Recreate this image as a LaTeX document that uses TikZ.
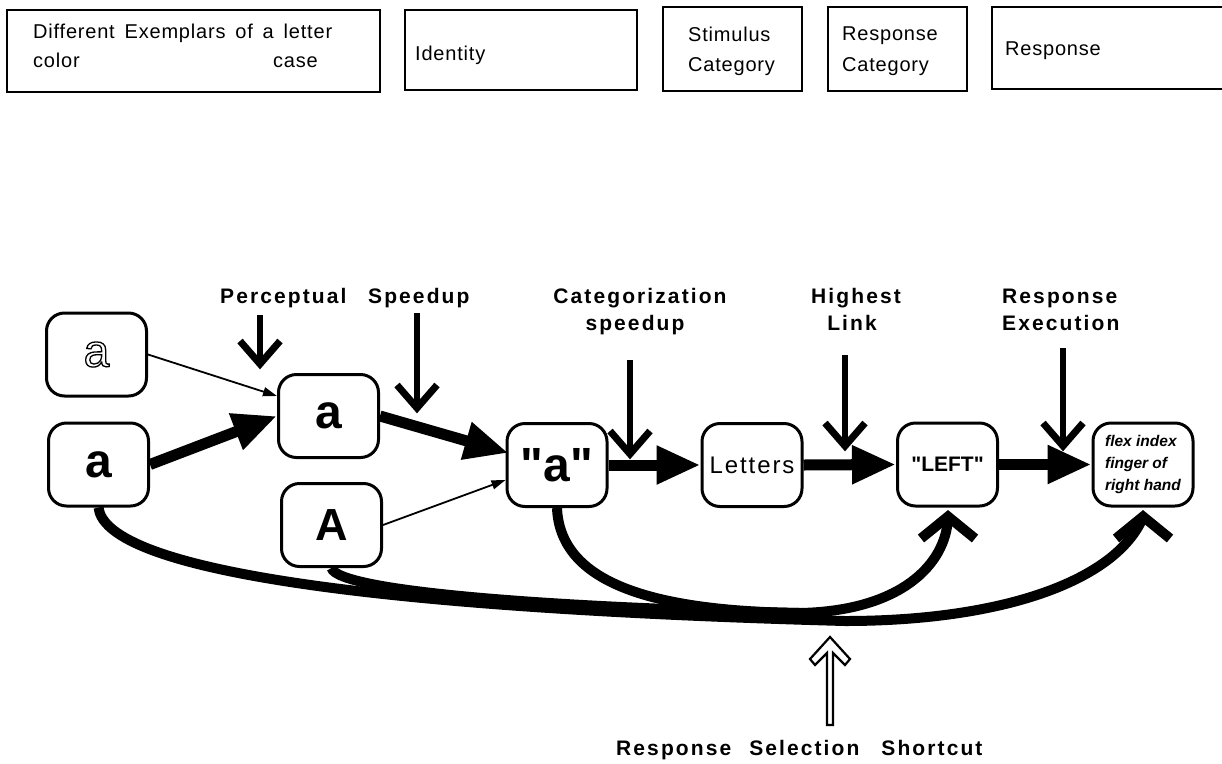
\documentclass[tikz,border=0pt]{standalone}
\usepackage{fontspec}
\setmainfont{Liberation Sans}
\newfontfamily\lblfont[LetterSpace=10]{Liberation Sans}
\newfontfamily\topfont[LetterSpace=4]{Liberation Sans}
\newfontfamily\ltrfont[LetterSpace=8]{Liberation Sans}
\newfontfamily\qfont[Ligatures=TeXOff]{Liberation Sans}
\usetikzlibrary{arrows.meta,calc}
\tikzset{
  topbox/.style={draw, line width=2.5pt, inner sep=0pt},
  toptext/.style={anchor=base west, inner sep=0pt, font=\topfont\fontsize{20}{29}\selectfont},
  stage/.style={draw, line width=3pt, rounded corners=18pt, fill=white, minimum width=100pt, minimum height=83pt, inner sep=0pt},
  bigletter/.style={font=\bfseries\fontsize{48}{48}\selectfont},
  lbl/.style={inner sep=0pt, font=\lblfont\bfseries\fontsize{21}{27}\selectfont},
  thinarr/.style={line width=1.8pt, -{Triangle[length=14pt,width=9pt]}},
  thickarr/.style={line width=11pt, -{Triangle[length=44pt,width=36pt]}},
  shaft/.style={line width=5.5pt},
  chev/.style={line width=7pt, line join=miter},
  upchev/.style={line width=10pt, line join=miter},
  route/.style={line width=10pt},
}
\begin{document}
\begin{tikzpicture}[x=1pt,y=-1pt]
\fill[white] (0,0) rectangle (1222,763);
\useasboundingbox (0,0) rectangle (1222,763);

% ---- top boxes ----
\node[topbox, minimum width=373pt, minimum height=82pt] (ex) at (193.5,51) {};
\node[toptext] (ex1) at (33,38) {\makebox[299pt][s]{Different Exemplars of a letter}};
\node[toptext] (ex2) at (33,67) {color};
\node[toptext] (ex3) at (273,67) {case};
\node[topbox, minimum width=232pt, minimum height=80pt] (idb) at (521,50) {};
\node[toptext] (idt) at (415,60) {Identity};
\node[topbox, minimum width=139pt, minimum height=84pt] (scb) at (732.5,49) {};
\node[toptext] (sc1) at (688,41) {Stimulus};
\node[toptext] (sc2) at (688,71) {Category};
\node[topbox, minimum width=139pt, minimum height=84pt] (rcb) at (897.5,49) {};
\node[toptext] (rc1) at (842,40) {Response};
\node[toptext] (rc2) at (842,71) {Category};
\node[topbox, minimum width=250pt, minimum height=82pt] (rb) at (1117,48) {};
\node[toptext] (rt) at (1005,55) {Response};

% ---- stage nodes ----
\node[stage] (oa) at (96.5,354.5) {\fontsize{46}{46}\selectfont\special{pdf:literal direct 1 Tr 1.3 w}a\special{pdf:literal direct 0 Tr}};
\node[stage, bigletter] (bolda) at (98.5,464.5) {a};
\node[stage, bigletter] (mida) at (328.5,416) {a};
\node[stage, font=\bfseries\fontsize{45}{45}\selectfont] (capA) at (331.5,525) {A};
\node[stage, font=\qfont\bfseries\fontsize{48}{48}\selectfont] (qa) at (557,465) {"a"};
\node[stage, font=\ltrfont\fontsize{24}{24}\selectfont] (let) at (752,465) {Letters};
\node[stage, font=\qfont\bfseries\fontsize{21}{21}\selectfont] (left) at (947.5,464.5) {"LEFT"};
\node[stage, font=\bfseries\itshape\fontsize{15.5}{22}\selectfont, align=left] (flex) at (1143,464.5) {flex index\\finger of\\right hand};

% ---- main links ----
\draw[thinarr] (oa.east) -- ($(mida.west)+(0,-20)$);
\draw[thickarr] (bolda.east) -- (mida.west);
\draw[thickarr] (mida.east) -- ($(qa.west)+(3,-12)$);
\draw[thinarr] (capA.east) -- ($(qa.west)+(0,15)$);
\draw[thickarr] (qa.east) -- (let.west);
\draw[thickarr] (let.east) -- (left.west);
\draw[thickarr] (left.east) -- (flex.west);

% ---- shortcut routes ----
\coordinate (lefttip) at ($(left.south)+(0.5,4)$);
\coordinate (flextip) at ($(flex.south)+(0,4)$);
\coordinate (b1) at (845,621);
\coordinate (b2) at (800,613);
\draw[route] (bolda.south) .. controls (105,565) and (330,607) .. (b1)
  .. controls (1000,621) and (1115,582) .. ($(flextip)+(0,6)$);
\draw[route] (capA.south) .. controls (338,592) and (560,608) .. (b2)
  .. controls (900,611) and (946,565) .. ($(lefttip)+(0,6)$);
\draw[route] (qa.south) .. controls (560,578) and (640,611) .. (b2);
\draw[upchev] ($(lefttip)+(-27,27)$) -- ($(lefttip)+(0,5)$) -- ($(lefttip)+(27,27)$);
\draw[upchev] ($(flextip)+(-27,27)$) -- ($(flextip)+(0,5)$) -- ($(flextip)+(27,27)$);

% ---- down arrows ----
\coordinate (p1s) at (260,315); \coordinate (p1e) at (260,368);
\coordinate (p2s) at (417,313); \coordinate (p2e) at (417,412);
\coordinate (p3s) at (630,360); \coordinate (p3e) at (630,458);
\coordinate (p4s) at (845,355); \coordinate (p4e) at (845,450);
\coordinate (p5s) at (1063,348); \coordinate (p5e) at (1063,450);
\foreach \s/\e in {p1s/p1e,p2s/p2e,p3s/p3e,p4s/p4e,p5s/p5e}{
  \draw[shaft] (\s) -- ($(\e)+(0,-8)$);
  \draw[chev] ($(\e)+(-20,-27)$) -- ($(\e)+(0,-4)$) -- ($(\e)+(20,-27)$);
}

% ---- hollow up arrow ----
\coordinate (sst) at (830,637);
\draw[line width=2.2pt, fill=white, line join=miter]
  ($(sst)+(-3,88)$) -- ($(sst)+(-3,16)$) -- ($(sst)+(-15,28)$) -- ($(sst)+(-20,22)$)
  -- (sst) -- ($(sst)+(20,22)$) -- ($(sst)+(15,28)$) -- ($(sst)+(3,16)$)
  -- ($(sst)+(3,88)$) -- cycle;

% ---- labels ----
\node[lbl, anchor=base west] (lp) at (220,303) {Perceptual};
\node[lbl, anchor=base west] (ls) at (368,303) {Speedup};
\node[lbl, anchor=base] (lc1) at (640,303) {Categorization};
\node[lbl, anchor=base] (lc2) at (635,330) {speedup};
\node[lbl, anchor=base] (lh1) at (856,303) {Highest};
\node[lbl, anchor=base] (lh2) at (852,330) {Link};
\node[lbl, anchor=base west] (lr1) at (1002,303) {Response};
\node[lbl, anchor=base west] (lr2) at (1002,330) {Execution};
\node[lbl, anchor=base west] (lrs) at (616,755) {Response\hspace{18pt}Selection\hspace{22pt}Shortcut};
\end{tikzpicture}
\end{document}
